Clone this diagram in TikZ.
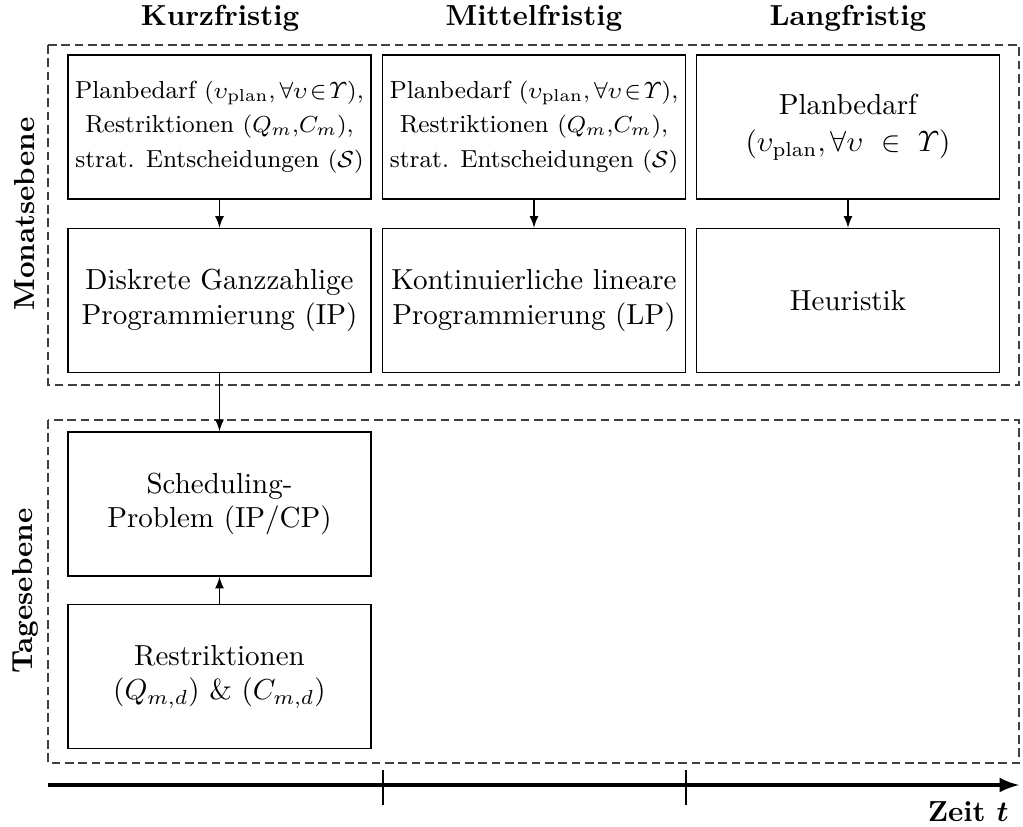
\documentclass[tikz,border=0pt]{standalone}
\usepackage{amsmath,amssymb,bm}
\usetikzlibrary{arrows.meta}
\tikzset{>=latex}
\tikzstyle{box}=[draw,line width=0.5pt,minimum width=104.5pt,minimum height=49.7pt,align=center,inner sep=1pt]
\tikzstyle{ebene}=[draw=black!75,line width=0.4pt,dash pattern=on 3pt off 1.6pt]
\tikzstyle{kopf}=[font=\bfseries]
\tikzstyle{klein}=[font=\fontsize{8.5}{12}\selectfont]

\begin{document}
\begin{tikzpicture}[x=0.345pt,y=-0.345pt]
  \useasboundingbox (0,0) rectangle (1023,827);
  % Spaltenkoepfe
  \node[kopf] (kurz) at (220,18) {Kurzfristig};
  \node[kopf] (mittel) at (534,18) {Mittelfristig};
  \node[kopf] (lang) at (848,18) {Langfristig};

  % Ebenen
  \draw[ebene] (48,45) rectangle (1019,385);
  \draw[ebene] (48,420) rectangle (1019,763);
  \node[kopf,rotate=90] (monat) at (25,214) {Monatsebene};
  \node[kopf,rotate=90] (tag) at (25,591) {Tagesebene};

  % Monatsebene
  \node[box,klein] (plan1) at (219.5,127) {Planbedarf $(\upsilon_{\text{plan}},\forall\upsilon\!\in\!\varUpsilon)$,\\ Restriktionen $(Q_m,\!C_m)$,\\ strat. Entscheidungen $(\mathcal{S})$};
  \node[box,klein] (plan2) at (534,127) {Planbedarf $(\upsilon_{\text{plan}},\forall\upsilon\!\in\!\varUpsilon)$,\\ Restriktionen $(Q_m,\!C_m)$,\\ strat. Entscheidungen $(\mathcal{S})$};
  \node[box] (plan3) at (848,127) {Planbedarf\\[1pt] $(\upsilon_{\text{plan}},\forall\upsilon\ \in\ \varUpsilon)$};
  \node[box] (ip) at (219.5,300.5) {Diskrete Ganzzahlige\\ Programmierung (IP)};
  \node[box] (lp) at (534,300.5) {Kontinuierliche lineare\\ Programmierung (LP)};
  \node[box] (heu) at (848,300.5) {Heuristik};

  % Tagesebene
  \node[box] (sched) at (219.5,504) {Scheduling-\\ Problem (IP/CP)};
  \node[box] (restr) at (219.5,676.5) {Restriktionen\\ $(Q_{m,d})$ \& $(C_{m,d})$};

  \draw[->] (plan1) -- (ip);
  \draw[->] (plan2) -- (lp);
  \draw[->] (plan3) -- (heu);
  \draw[->] (ip) -- (sched);
  \draw[->] (restr) -- (sched);

  % Zeitachse
  \coordinate (t0) at (48,785);
  \coordinate (t1) at (1019,785);
  \draw[->,line width=1.3pt] (t0) -- (t1);
  \draw (383,770) -- (383,805);
  \draw (686,770) -- (686,805);
  \node[kopf,anchor=east] (zeit) at (1019,812) {Zeit $\bm{t}$};
\end{tikzpicture}
\end{document}
